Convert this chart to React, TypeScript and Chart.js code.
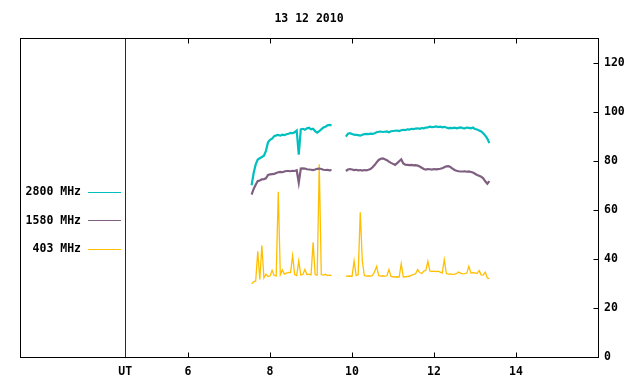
import React, { useEffect, useRef } from "react";
import { Chart, registerables } from "chart.js";

Chart.register(...registerables);

const TITLE = "13 12 2010";
const UT_POS = 4.466;
const X_TICKS = [6, 8, 10, 12, 14];
const Y_TICKS = [0, 20, 40, 60, 80, 100, 120];

// hours UT (null gap between the two observing sessions)
const TIMES = [
  7.55, 7.6, 7.65, 7.7, 7.75, 7.8, 7.85, 7.9, 7.95, 8.0,
  8.05, 8.1, 8.15, 8.2, 8.25, 8.3, 8.35, 8.4, 8.45, 8.5,
  8.55, 8.6, 8.65, 8.7, 8.75, 8.8, 8.85, 8.9, 8.95, 9.0,
  9.05, 9.1, 9.15, 9.2, 9.25, 9.3, 9.35, 9.4, 9.45, 9.5,
  9.7,
  9.85, 9.9, 9.95, 10.0, 10.05, 10.1, 10.15, 10.2, 10.25, 10.3,
  10.35, 10.4, 10.45, 10.5, 10.55, 10.6, 10.65, 10.7, 10.75, 10.8,
  10.85, 10.9, 10.95, 11.0, 11.05, 11.1, 11.15, 11.2, 11.25, 11.3,
  11.35, 11.4, 11.45, 11.5, 11.55, 11.6, 11.65, 11.7, 11.75, 11.8,
  11.85, 11.9, 11.95, 12.0, 12.05, 12.1, 12.15, 12.2, 12.25, 12.3,
  12.35, 12.4, 12.45, 12.5, 12.55, 12.6, 12.65, 12.7, 12.75, 12.8,
  12.85, 12.9, 12.95, 13.0, 13.05, 13.1, 13.15, 13.2, 13.25, 13.3,
  13.35,
];

const MHZ_2800 = [
  70, 75, 78.5, 80.5, 81, 81.5, 82, 84, 87.5, 88.5,
  89, 90, 90.3, 90.5, 90.2, 90.6, 90.4, 90.8, 91, 91.3,
  91.2, 91.6, 92.3, 82.5, 92.8, 93, 92.6, 93.2, 93.4, 92.8,
  93, 92, 91.4, 92, 92.8, 93.5, 93.8, 94.4, 94.6, 94.4,
  null,
  89.8, 91.0, 91.2, 90.9, 90.6, 90.5, 90.4, 90.2, 90.6, 90.8,
  90.9, 90.8, 91.0, 90.9, 91.2, 91.6, 91.8, 91.9, 91.7, 91.8,
  91.9, 91.6, 92.0, 92.1, 92.2, 92.3, 92.1, 92.4, 92.6, 92.5,
  92.8, 92.7, 93.0, 92.9, 93.1, 93.2, 93.0, 93.3, 93.2, 93.5,
  93.6, 93.9, 93.7, 93.8, 94.0, 93.7, 93.9, 93.6, 93.8, 93.5,
  93.2, 93.4, 93.3, 93.5, 93.2, 93.4, 93.6, 93.3, 93.2, 93.5,
  93.4, 93.2, 93.5, 92.9, 92.7, 92.3, 91.9, 91.2, 90.2, 89.0,
  87.2,
];

const MHZ_1580 = [
  66.2, 68.5, 70.2, 71.7, 71.9, 72.4, 72.5, 72.8, 74.2, 74.4,
  74.5, 74.6, 75.0, 75.3, 75.4, 75.3, 75.6, 75.8, 75.8, 75.7,
  75.9, 75.8, 76.1, 71, 76.8, 76.9, 76.8, 76.5, 76.4, 76.3,
  76.2, 76.4, 76.7, 76.8, 76.6, 76.3, 76.2, 76.3, 76.1, 76.2,
  null,
  75.8, 76.4, 76.6, 76.4, 76.2, 76.3, 76.1, 76.2, 76.0, 76.2,
  76.1, 76.3, 76.6, 77.3, 78.2, 79.3, 80.3, 80.8, 80.9, 80.6,
  80.2, 79.6, 79.1, 78.7, 78.3, 79.0, 79.8, 80.6, 78.9, 78.4,
  78.3, 78.2, 78.3, 78.1, 78.2, 78.0, 77.6, 77.1, 76.6, 76.4,
  76.6, 76.5, 76.4, 76.6, 76.5, 76.6, 76.7, 76.9, 77.3, 77.7,
  77.8, 77.4, 76.8, 76.2, 75.9, 75.7, 75.6, 75.6, 75.7, 75.5,
  75.6, 75.4, 75.2, 74.7, 74.2, 73.9, 73.5, 72.8, 71.6, 70.6,
  71.7,
];

const MHZ_403 = [
  29.8, 30.6, 31, 43.1, 31.6, 45.4, 32.2, 33.8, 32.8, 33,
  35.3, 33.2, 33, 67.3, 33.5, 35.5, 33.8, 34.2, 34.5, 34.4,
  41.3, 33.6, 33.2, 39.2, 33.4, 33.6, 35.7, 33.6, 33.8, 33.5,
  46.7, 33.5, 33.3, 78.5, 33.6, 33.4, 33.7, 33.2, 33.4, 33.3,
  null,
  33.1, 32.9, 33.0, 32.8, 39.2, 33.2, 33.5, 59.0, 39.2, 33.2,
  33.0, 33.1, 33.0, 33.2, 34.8, 36.9, 33.2, 33.0, 33.1, 33.0,
  33.1, 35.6, 32.8, 32.7, 32.6, 32.7, 32.6, 38.0, 32.6, 32.7,
  32.8, 32.9, 33.4, 33.6, 33.9, 35.6, 34.4, 34.0, 35.0, 35.3,
  39.0, 35.0, 34.9, 35.0, 34.8, 35.0, 34.6, 34.2, 39.7, 34.0,
  33.8, 33.9, 33.7, 33.8, 34.0, 34.6, 34.2, 33.9, 34.0, 34.2,
  37.0, 34.2, 34.4, 34.3, 34.0, 35.2, 33.5, 33.4, 34.6, 32.2,
  31.9,
];

const SERIES_LABELS = ["2800 MHz", "1580 MHz", "403 MHz"];
const SERIES_COLORS = ["#00bfbf", "#7f5f7f", "#ffbf00"];

const FONT_FAMILY = '"DejaVu Sans Mono", monospace';
const FONT_SIZE = 11.5;

const toPoints = (vals: (number | null)[]) =>
  TIMES.map((t, i) => ({ x: t, y: vals[i] }));

const framePlugin = {
  id: "frame",
  afterDatasetsDraw(chart: any) {
    const { ctx, chartArea } = chart;
    const xs = chart.scales.x;
    const ys = chart.scales.y;
    const L = Math.round(chartArea.left) + 0.5;
    const R = Math.round(chartArea.right) + 0.5;
    const T = Math.round(chartArea.top) + 0.5;
    const B = Math.round(chartArea.bottom) + 0.5;
    ctx.save();
    // UT marker line
    const ux = Math.round(xs.getPixelForValue(UT_POS)) + 0.5;
    ctx.strokeStyle = "#8b0000";
    ctx.lineWidth = 1;
    ctx.beginPath();
    ctx.moveTo(ux, T);
    ctx.lineTo(ux, B);
    ctx.stroke();
    // border
    ctx.strokeStyle = "#000";
    ctx.strokeRect(L, T, R - L, B - T);
    // x ticks (bottom + mirrored top)
    ctx.beginPath();
    X_TICKS.forEach((v) => {
      const px = Math.round(xs.getPixelForValue(v)) + 0.5;
      ctx.moveTo(px, B);
      ctx.lineTo(px, B - 5);
      ctx.moveTo(px, T);
      ctx.lineTo(px, T + 5);
    });
    // y ticks (right, inward)
    Y_TICKS.forEach((v) => {
      const py = Math.round(ys.getPixelForValue(v)) + 0.5;
      ctx.moveTo(R, py);
      ctx.lineTo(R - 5, py);
    });
    ctx.stroke();

    // title
    ctx.fillStyle = "#000";
    ctx.font = `bold ${FONT_SIZE}px ${FONT_FAMILY}`;
    ctx.textAlign = "center";
    ctx.textBaseline = "middle";
    ctx.fillText(TITLE, (chartArea.left + chartArea.right) / 2, 19);

    // legend
    chart.data.datasets.forEach((ds: any, i: number) => {
      const y = 191.5 + i * 28.5;
      ctx.fillStyle = "#000";
      ctx.textAlign = "right";
      ctx.fillText(ds.label, 81, y + 1);
      ctx.strokeStyle = ds.borderColor;
      ctx.lineWidth = 1;
      ctx.beginPath();
      ctx.moveTo(88, Math.round(y) + 0.5);
      ctx.lineTo(121, Math.round(y) + 0.5);
      ctx.stroke();
    });
    ctx.restore();
  },
};

export default function App() {
  const ref = useRef<HTMLCanvasElement | null>(null);
  useEffect(() => {
    document.body.style.margin = "0";
    const canvas = ref.current;
    if (!canvas) return;
    const seriesVals = [MHZ_2800, MHZ_1580, MHZ_403];
    const chart = new Chart(canvas, {
      type: "line",
      data: {
        datasets: seriesVals.map((vals, i) => ({
          label: SERIES_LABELS[i],
          data: toPoints(vals),
          borderColor: SERIES_COLORS[i],
          backgroundColor: SERIES_COLORS[i],
          borderWidth: i === 2 ? 1.3 : 2.2,
          pointRadius: 0,
          tension: 0,
          spanGaps: false,
        })),
      },
      options: {
        animation: false,
        responsive: false,
        events: [],
        layout: { padding: { left: 20, top: 38, right: 0, bottom: 0 } },
        plugins: {
          legend: { display: false },
          title: { display: false },
          tooltip: { enabled: false },
        },
        scales: {
          x: {
            type: "linear",
            position: "bottom",
            min: 1.9,
            max: 16,
            grid: { display: false, drawTicks: false },
            border: { display: false },
            afterBuildTicks: (scale: any) => {
              scale.ticks = [UT_POS, ...X_TICKS].map((v) => ({ value: v }));
            },
            afterFit: (scale: any) => {
              scale.height = 27;
            },
            ticks: {
              autoSkip: false,
              maxRotation: 0,
              padding: 8,
              color: "#000",
              font: { family: FONT_FAMILY, size: FONT_SIZE, weight: "bold" },
              callback: (v: any) => (v === UT_POS ? "UT" : String(v)),
            },
          },
          y: {
            type: "linear",
            position: "right",
            min: 0,
            max: 130,
            grid: { display: false, drawTicks: false },
            border: { display: false },
            afterBuildTicks: (scale: any) => {
              scale.ticks = Y_TICKS.map((v) => ({ value: v }));
            },
            afterFit: (scale: any) => {
              scale.width = 42;
            },
            ticks: {
              padding: 6,
              color: "#000",
              font: { family: FONT_FAMILY, size: FONT_SIZE, weight: "bold" },
              callback: (v: any) => String(v),
            },
          },
        },
      },
      plugins: [framePlugin],
    });
    return () => chart.destroy();
  }, []);
  return (
    <canvas
      ref={ref}
      width={640}
      height={384}
      style={{ display: "block", width: 640, height: 384 }}
    />
  );
}
